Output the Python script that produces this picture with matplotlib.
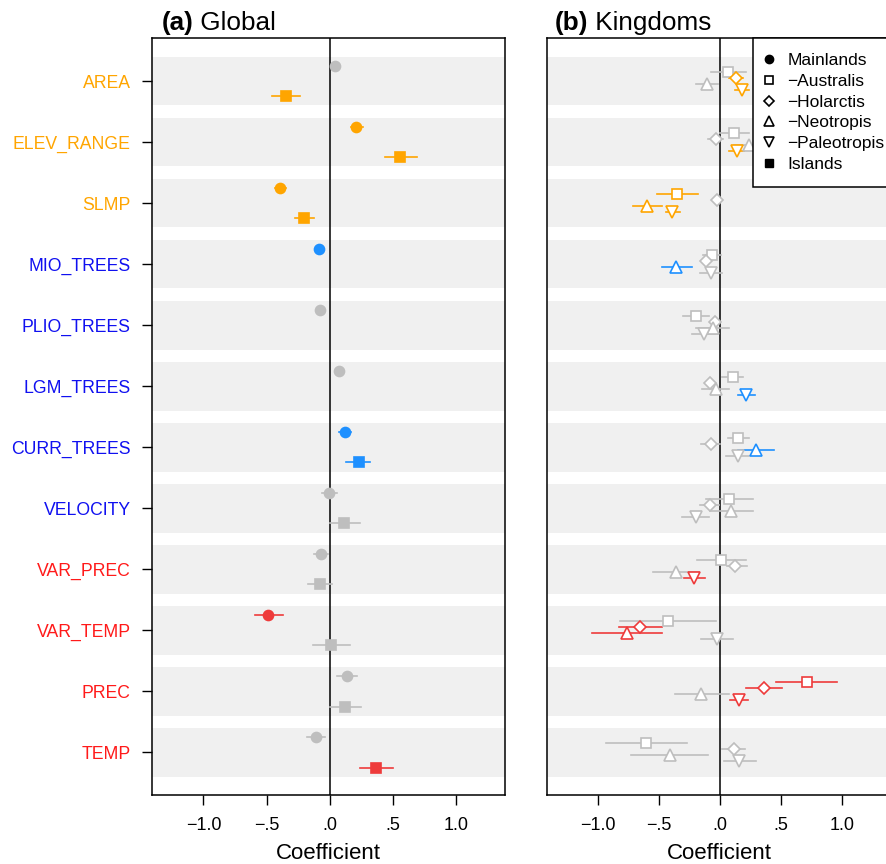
import numpy as np
import matplotlib
matplotlib.use('Agg')
import matplotlib.pyplot as plt
from matplotlib.lines import Line2D

plt.rcParams['font.family'] = ['Liberation Sans', 'DejaVu Sans']
plt.rcParams['axes.unicode_minus'] = True

# ------------------------------------------------------------------
# Data
# ------------------------------------------------------------------
variables = ['AREA', 'ELEV_RANGE', 'SLMP', 'MIO_TREES', 'PLIO_TREES',
             'LGM_TREES', 'CURR_TREES', 'VELOCITY', 'VAR_PREC',
             'VAR_TEMP', 'PREC', 'TEMP']
var_group = ['topo', 'topo', 'topo', 'veg', 'veg', 'veg', 'veg', 'veg',
             'clim', 'clim', 'clim', 'clim']

# (a) Global: mainlands
main_est = [0.043, 0.213, -0.390, -0.088, -0.078, 0.073, 0.119, -0.002, -0.067, -0.488, 0.135, -0.110]
main_lo = [0.030, 0.167, -0.433, -0.100, -0.090, 0.062, 0.073, -0.062, -0.121, -0.595, 0.060, -0.180]
main_hi = [0.056, 0.261, -0.345, -0.076, -0.066, 0.084, 0.167, 0.060, -0.016, -0.371, 0.216, -0.037]
main_sig = [0, 1, 1, 1, 0, 0, 1, 0, 0, 1, 0, 0]

# (a) Global: islands (no tree variables)
isl_est = [-0.345, 0.560, -0.200, np.nan, np.nan, np.nan, 0.229, 0.116, -0.078, 0.011, 0.124, 0.367]
isl_lo = [-0.455, 0.437, -0.277, np.nan, np.nan, np.nan, 0.131, 0.003, -0.175, -0.129, 0.000, 0.237]
isl_hi = [-0.232, 0.689, -0.124, np.nan, np.nan, np.nan, 0.323, 0.237, 0.016, 0.159, 0.248, 0.504]
isl_sig = [1, 1, 1, 0, 0, 0, 1, 0, 0, 0, 0, 1]

# (b) Kingdoms: mainlands with one kingdom left out
aus_est = [0.065, 0.109, -0.352, -0.067, -0.200, 0.101, 0.148, 0.073, 0.010, -0.425, 0.712, -0.607]
aus_lo = [-0.079, -0.004, -0.522, -0.139, -0.304, 0.018, 0.065, -0.117, -0.194, -0.823, 0.461, -0.939]
aus_hi = [0.214, 0.236, -0.180, 0.004, -0.095, 0.186, 0.233, 0.266, 0.214, -0.034, 0.961, -0.272]
aus_sig = [0, 0, 1, 0, 0, 0, 0, 0, 0, 0, 1, 0]

hol_est = [0.128, -0.032, -0.029, -0.114, -0.043, -0.084, -0.073, -0.087, 0.125, -0.654, 0.357, 0.109]
hol_lo = [0.076, -0.101, -0.070, -0.150, -0.080, -0.120, -0.158, -0.166, 0.054, -0.833, 0.214, 0.018]
hol_hi = [0.186, 0.026, 0.010, -0.080, -0.010, -0.050, -0.002, -0.010, 0.219, -0.481, 0.503, 0.200]
hol_sig = [1, 0, 0, 0, 0, 0, 0, 0, 0, 1, 1, 0]

neo_est = [-0.109, 0.239, -0.597, -0.360, -0.061, -0.034, 0.293, 0.090, -0.365, -0.767, -0.156, -0.415]
neo_lo = [-0.202, 0.109, -0.712, -0.481, -0.197, -0.150, 0.148, -0.084, -0.552, -1.054, -0.370, -0.732]
neo_hi = [-0.015, 0.370, -0.478, -0.235, 0.070, 0.076, 0.443, 0.266, -0.175, -0.478, 0.068, -0.103]
neo_sig = [0, 0, 1, 1, 0, 0, 1, 0, 0, 1, 0, 0]

pal_est = [0.180, 0.137, -0.392, -0.075, -0.131, 0.211, 0.142, -0.202, -0.213, -0.029, 0.153, 0.158]
pal_lo = [0.123, 0.076, -0.447, -0.164, -0.233, 0.142, 0.046, -0.310, -0.296, -0.161, 0.081, 0.029]
pal_hi = [0.239, 0.198, -0.332, 0.015, -0.029, 0.283, 0.239, -0.093, -0.125, 0.103, 0.230, 0.293]
pal_sig = [1, 1, 1, 0, 0, 1, 0, 0, 1, 0, 1, 0]

x_ticks = [-1.0, -0.5, 0.0, 0.5, 1.0]
x_ticklabels = ['\u22121.0', '\u2212.5', '.0', '.5', '1.0']

legend_labels = ['Mainlands', '\u2212Australis', '\u2212Holarctis', '\u2212Neotropis',
                 '\u2212Paleotropis', 'Islands']

# ------------------------------------------------------------------
# Styling
# ------------------------------------------------------------------
label_col = {'topo': '#FFA500', 'veg': '#1010F0', 'clim': '#FF1A1A'}
mark_col = {'topo': '#FFA500', 'veg': '#1E90FF', 'clim': '#EE3B3B'}
GREY = '#BEBEBE'
BAND = '#F0F0F0'

W, H = 887, 864
fig = plt.figure(figsize=(W / 100, H / 100), dpi=100)


def px_axes(left, top, right, bottom):
    return fig.add_axes([left / W, 1 - bottom / H, (right - left) / W, (bottom - top) / H])


ax1 = px_axes(151.7, 38.3, 505, 795)
ax2 = px_axes(547, 38.3, 891, 795)

n = len(variables)
rows = np.arange(n)


def setup(ax, xlim, labels):
    ax.set_xlim(*xlim)
    ax.set_ylim(n - 0.3, -0.7)
    for r in rows:
        ax.axhspan(r - 0.4, r + 0.4, color=BAND, lw=0, zorder=0)
    ax.axvline(0, color='black', lw=1.1, zorder=1)
    ax.set_xticks(x_ticks)
    ax.set_xticklabels(x_ticklabels, fontsize=13)
    ax.tick_params(axis='x', length=7, width=1, pad=9)
    ax.set_xlabel('Coefficient', fontsize=16, labelpad=6)
    if labels:
        ax.set_yticks(rows)
        ax.set_yticklabels(variables, fontsize=12.7)
        ax.tick_params(axis='y', length=7, width=1, pad=8)
        for tl, g in zip(ax.get_yticklabels(), var_group):
            tl.set_color(label_col[g])
    else:
        ax.set_yticks([])
    for s in ax.spines.values():
        s.set_linewidth(1.1)


setup(ax1, (-1.41, 1.39), True)
setup(ax2, (-1.42, 1.40), False)


def draw_series(ax, est, lo, hi, sig, offset, marker, ms, filled):
    for i in range(n):
        if np.isnan(est[i]):
            continue
        c = mark_col[var_group[i]] if sig[i] else GREY
        y = rows[i] + offset
        ax.plot([lo[i], hi[i]], [y, y], color=c, lw=1.2, zorder=2)
        ax.plot(est[i], y, marker=marker, ms=ms, color=c, ls='none',
                markerfacecolor=c if filled else 'white',
                markeredgecolor=c, markeredgewidth=1.2, zorder=3)


# (a) Global
draw_series(ax1, main_est, main_lo, main_hi, main_sig, -0.25, 'o', 7.2, True)
draw_series(ax1, isl_est, isl_lo, isl_hi, isl_sig, 0.25, 's', 7.8, True)

# (b) Kingdoms
draw_series(ax2, aus_est, aus_lo, aus_hi, aus_sig, -0.15, 's', 6.8, False)
draw_series(ax2, hol_est, hol_lo, hol_hi, hol_sig, -0.05, 'D', 6.2, False)
draw_series(ax2, neo_est, neo_lo, neo_hi, neo_sig, 0.05, '^', 9, False)
draw_series(ax2, pal_est, pal_lo, pal_hi, pal_sig, 0.15, 'v', 9, False)

# legend
handles = [
    Line2D([], [], marker='o', ls='none', color='black', ms=6),
    Line2D([], [], marker='s', ls='none', color='black', mfc='white', ms=6, mew=1.2),
    Line2D([], [], marker='D', ls='none', color='black', mfc='white', ms=5.5, mew=1.2),
    Line2D([], [], marker='^', ls='none', color='black', mfc='white', ms=7, mew=1.2),
    Line2D([], [], marker='v', ls='none', color='black', mfc='white', ms=7, mew=1.2),
    Line2D([], [], marker='s', ls='none', color='black', ms=6),
]
leg = ax2.legend(handles, legend_labels, loc='upper left', bbox_to_anchor=((753.3 - 547) / 344, 1.0),
                 borderaxespad=0, fontsize=12.5, frameon=True, fancybox=False,
                 framealpha=1, edgecolor='black', handlelength=0.15,
                 handletextpad=0.97, labelspacing=0.32, borderpad=0.85)
leg.get_frame().set_linewidth(1.1)
leg.set_zorder(5)

# panel titles: bold letter + plain name
for letter, name, x in [('(a)', 'Global', 161.7), ('(b)', 'Kingdoms', 555)]:
    t = fig.text(x / W, 1 - 30 / H, letter, fontsize=18.8, fontweight='bold', va='baseline')
    fig.add_artist(plt.Annotation(' ' + name, xy=(1, 0), xycoords=t, va='bottom',
                                  fontsize=18.8, annotation_clip=False))

fig.savefig('out.png', dpi=100)
